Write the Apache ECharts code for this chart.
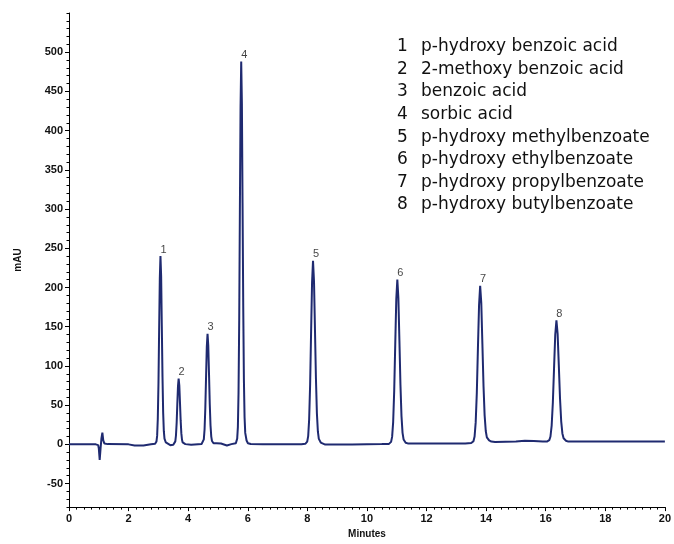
<!DOCTYPE html>
<html>
<head>
<meta charset="utf-8">
<script src="https://cdn.jsdelivr.net/npm/echarts@6/dist/echarts.min.js"></script>
<style>
html,body{margin:0;padding:0;background:#fff;}
#chart{width:674px;height:544px;}
</style>
</head>
<body>
<div id="chart"></div>
<script>
// ---- data ----
const peakNumbers = ['1', '2', '3', '4', '5', '6', '7', '8'];
const compoundNames = [
  'p-hydroxy benzoic acid',
  '2-methoxy benzoic acid',
  'benzoic acid',
  'sorbic acid',
  'p-hydroxy methylbenzoate',
  'p-hydroxy ethylbenzoate',
  'p-hydroxy propylbenzoate',
  'p-hydroxy butylbenzoate'
];
const peakTimes = [3.07, 3.68, 4.65, 5.78, 8.19, 11.02, 13.80, 16.36];
const peakHeights = [240, 84, 141, 488, 234, 210, 202, 158];

const traceTime = [
  0, 0.9, 0.98, 1.0, 1.03, 1.06, 1.09, 1.12, 1.15, 1.19, 1.3, 2.0, 2.2, 2.5, 2.75,
  2.89, 2.935, 2.958, 2.98, 3.003, 3.025, 3.048, 3.07, 3.093, 3.115, 3.138, 3.16, 3.183, 3.205, 3.25, 3.295,
  3.4, 3.5,
  3.545, 3.568, 3.59, 3.613, 3.635, 3.658, 3.68, 3.703, 3.725, 3.748, 3.77, 3.793, 3.815, 3.86, 3.905,
  4.1, 4.45,
  4.5, 4.525, 4.55, 4.575, 4.6, 4.625, 4.65, 4.675, 4.7, 4.725, 4.75, 4.775, 4.8, 4.85, 4.9,
  4.95, 5.1, 5.15, 5.3, 5.45,
  5.6, 5.645, 5.668, 5.69, 5.713, 5.735, 5.758, 5.78, 5.803, 5.825, 5.848, 5.87, 5.893, 5.915, 5.96, 6.005,
  6.1, 6.5, 7.5, 7.8,
  7.93, 7.995, 8.028, 8.06, 8.093, 8.125, 8.158, 8.19, 8.223, 8.255, 8.288, 8.32, 8.353, 8.385, 8.45, 8.515,
  8.6, 9.5, 10.5,
  10.74, 10.81, 10.845, 10.88, 10.915, 10.95, 10.985, 11.02, 11.055, 11.09, 11.125, 11.16, 11.195, 11.23, 11.3, 11.37,
  11.5, 12.5, 13.3,
  13.5, 13.575, 13.613, 13.65, 13.688, 13.725, 13.763, 13.8, 13.838, 13.875, 13.913, 13.95, 13.988, 14.025, 14.1, 14.175,
  14.3, 15.0, 15.3, 15.6, 15.9,
  16.04, 16.12, 16.16, 16.2, 16.24, 16.28, 16.32, 16.36, 16.4, 16.44, 16.48, 16.52, 16.56, 16.6, 16.68, 16.76,
  17.0, 20.0
];
const traceSignal = [
  0, 0, -1, -5, -20, -5, 8, 15, 5, 1, 0.3, 0, -1.5, -1.5, 0,
  0.7, 3.6, 10.8, 32.4, 78, 145.7, 211.9, 240, 213.6, 151.2, 86.4, 40.8, 16.8, 7.2, 2.4, 0.7,
  -1, -0.5,
  1.3, 3.8, 11.3, 27.3, 51, 74.2, 84, 74.8, 52.9, 30.2, 14.3, 5.9, 2.5, 0.8, 0.3,
  -0.5, 0.4,
  2.1, 6.3, 19, 45.8, 85.6, 124.5, 141, 125.5, 88.8, 50.8, 24, 9.9, 4.2, 1.4, 1.2,
  1.5, 1, -1.5, -1.5, 0.3,
  1.5, 7.3, 22, 65.9, 158.6, 296.2, 430.9, 488, 434.3, 307.4, 175.7, 83, 34.2, 14.6, 4.9, 1.5,
  0.5, 0, 0, 0.2,
  0.7, 3.5, 10.5, 31.6, 76, 142, 206.6, 234, 208.3, 147.4, 84.2, 39.8, 16.4, 7, 2.3, 0.7,
  -0.3, -0.3, 0.3,
  0.6, 3.2, 9.5, 28.4, 68.2, 127.5, 185.4, 210, 186.9, 132.3, 75.6, 35.7, 14.7, 6.3, 2.1, 1.2,
  1, 1, 1,
  1.6, 4, 10, 28, 66, 122.4, 177.6, 202, 180, 128, 74, 37, 17, 9, 5, 3.6,
  3, 3.5, 4.5, 4.3, 3.5,
  3.5, 5.3, 10, 23.9, 53.4, 97, 139.8, 158, 141, 100.7, 58.8, 29.4, 13.9, 7.7, 4.6, 3.5,
  3.5, 3.5
];

const xTickInterval = 2;
const yRange = [-80, 550];

// ---- chart ----
const chart = echarts.init(document.getElementById('chart'), null, {renderer: 'canvas'});
const lineColor = '#1f2a70';
const axisFont = {fontFamily: 'Liberation Sans', fontWeight: 'bold', fontSize: 11, color: '#111'};
const legendFont = '17px "DejaVu Sans"';

const legendElements = [];
compoundNames.forEach((name, i) => {
  const y = 46.7 + i * 22.6;
  legendElements.push({
    type: 'text', x: 397, y: y,
    style: {text: peakNumbers[i], font: legendFont, fill: '#111', verticalAlign: 'middle', align: 'left'}
  });
  legendElements.push({
    type: 'text', x: 421, y: y,
    style: {text: name, font: legendFont, fill: '#111', verticalAlign: 'middle', align: 'left'}
  });
});

chart.setOption({
  animation: false,
  backgroundColor: '#fff',
  grid: {left: 69, right: 6, top: 13, bottom: 32, containLabel: false},
  xAxis: {
    type: 'value', min: 0, max: 20, interval: xTickInterval,
    name: 'Minutes', nameLocation: 'middle', nameGap: 20,
    nameTextStyle: {fontFamily: 'Liberation Sans', fontWeight: 'bold', fontSize: 10, color: '#111'},
    axisLine: {show: true, onZero: false, lineStyle: {color: '#000', width: 1}},
    axisTick: {show: true, inside: false, length: 4, lineStyle: {color: '#000'}},
    minorTick: {show: true, splitNumber: 8, length: 2.5, lineStyle: {color: '#000'}},
    axisLabel: Object.assign({margin: 6}, axisFont),
    splitLine: {show: false}
  },
  yAxis: [{
    type: 'value', min: yRange[0], max: yRange[1], splitNumber: 12,
    name: 'mAU', nameLocation: 'middle', nameGap: 46, nameRotate: 90,
    nameTextStyle: {fontFamily: 'Liberation Sans', fontWeight: 'bold', fontSize: 10, color: '#111'},
    axisLine: {show: true, onZero: false, lineStyle: {color: '#000', width: 1}},
    axisTick: {show: true, inside: false, length: 4, lineStyle: {color: '#000'}},
    axisLabel: Object.assign({margin: 6, showMinLabel: false, showMaxLabel: false}, axisFont),
    splitLine: {show: false}
  }, {
    type: 'value', min: yRange[0], max: yRange[1], interval: 10, position: 'left',
    axisLine: {show: false},
    axisTick: {show: true, inside: false, length: 2.5, lineStyle: {color: '#000'}},
    axisLabel: {show: false},
    splitLine: {show: false}
  }],
  series: [{
    type: 'line',
    data: traceTime.map((t, i) => [t, traceSignal[i]]),
    showSymbol: false,
    lineStyle: {color: lineColor, width: 2},
    silent: true
  }, {
    type: 'scatter',
    data: peakTimes.map((t, i) => [t, peakHeights[i]]),
    symbolSize: 0,
    label: {
      show: true, position: 'top', distance: 1, offset: [3, 0],
      formatter: p => peakNumbers[p.dataIndex],
      fontFamily: 'Liberation Sans', fontSize: 11, color: '#111'
    },
    silent: true
  }],
  graphic: legendElements
});
</script>
</body>
</html>
